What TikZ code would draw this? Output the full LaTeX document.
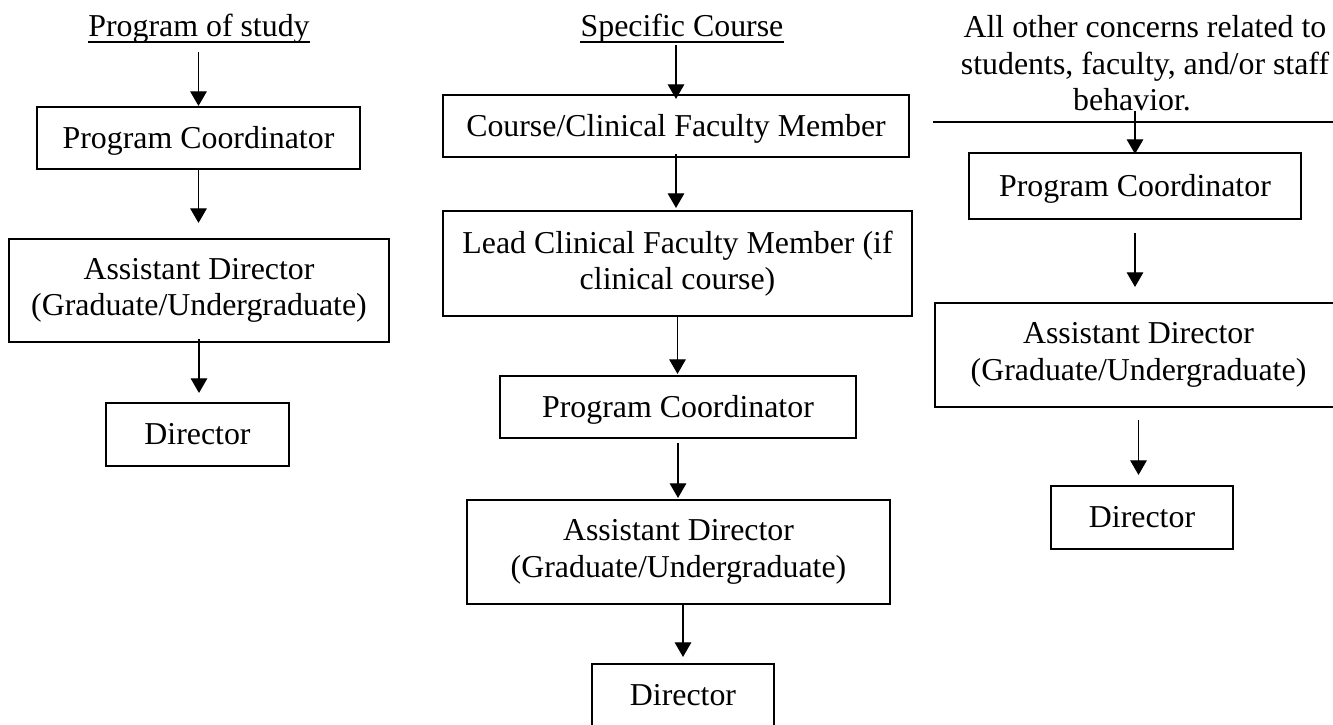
\documentclass[tikz,border=0pt]{standalone}
\usepackage{fontspec}
\setmainfont{Liberation Serif}
\usetikzlibrary{arrows.meta}
\tikzset{
  boxnode/.style={draw, line width=1.6pt, rectangle, inner sep=0pt, align=center,
    font=\fontsize{23.9pt}{27.4pt}\selectfont},
  oneline/.style={text height=16.7pt, text depth=1pt},
  titlenode/.style={inner sep=0pt, align=center, font=\fontsize{23.9pt}{27.4pt}\selectfont},
  arr/.style={line width=0.8pt, -{Triangle[width=12.5pt,length=11pt]}},
  uline/.style={line width=1.1pt},
  rule/.style={line width=1.1pt}
}
\begin{document}
\begin{tikzpicture}[x=0.75pt, y=-0.75pt]
\useasboundingbox (0,0) rectangle (1333,724);
\fill[white] (0,0) rectangle (1333,724);
\clip (0,0) rectangle (1333,724);

% ---------- Column 1: Program of study ----------
\node[titlenode, anchor=base] (t1) at (199,37) {Program of study};
\draw[uline] ([yshift=-3.75pt]t1.base west) -- ([yshift=-3.75pt]t1.base east);
\node[boxnode, oneline, minimum width=242.25pt, minimum height=46.5pt] (pc1) at (198.5,138) {Program Coordinator};
\node[boxnode, minimum width=285pt, minimum height=77.25pt] (as1) at (199,290.5) {Assistant Director\\(Graduate/Undergraduate)};
\node[boxnode, oneline, minimum width=137.25pt, minimum height=47.25pt] (d1) at (197.5,434.5) {Director};

\draw[arr, shorten <=11.25pt] (pc1.north |- t1.base) -- (pc1.north);
\draw[arr, shorten >=11.25pt] (pc1.south) -- (pc1.south |- as1.north);
\draw[arr, shorten <=-3pt, shorten >=6.75pt] (as1.south) -- (as1.south |- d1.north);

% ---------- Column 2: Specific Course ----------
\node[titlenode, anchor=base] (t2) at (682,37) {Specific Course};
\draw[uline] ([yshift=-3.75pt]t2.base west) -- ([yshift=-3.75pt]t2.base east);
\node[boxnode, oneline, minimum width=349.5pt, minimum height=46.5pt] (cf2) at (676,126) {Course/Clinical Faculty Member};
\node[boxnode, minimum width=351.75pt, minimum height=78.75pt] (lc2) at (677.5,263.5) {Lead Clinical Faculty Member (if\\clinical course)};
\node[boxnode, oneline, minimum width=267pt, minimum height=46.5pt] (pc2) at (678,407) {Program Coordinator};
\node[boxnode, minimum width=317.25pt, minimum height=78pt] (as2) at (678.5,552) {Assistant Director\\(Graduate/Undergraduate)};
\node[boxnode, oneline, minimum width=136.5pt, minimum height=47.25pt] (d2) at (683,695.5) {Director};

\draw[arr, shorten <=6pt, shorten >=-3.75pt] (cf2.north |- t2.base) -- (cf2.north);
\draw[arr, shorten <=-3pt, shorten >=1.5pt] (cf2.south) -- (cf2.south |- lc2.north);
\draw[arr, shorten >=0.75pt] (lc2.south) -- (lc2.south |- pc2.north);
\draw[arr, shorten <=3pt, shorten >=0.75pt] (pc2.south) -- (pc2.south |- as2.north);
\draw[arr, shorten <=-1.5pt, shorten >=4.5pt] (as2.south -| d2.north) -- (d2.north);

% ---------- Column 3: All other concerns ----------
\node[titlenode, anchor=north] (t3) at (1145,15.2) {All other concerns related to\\students, faculty, and/or staff\hspace*{6pt}\\behavior.\hspace*{19.5pt}};
\coordinate (r3a) at (933,122);
\coordinate (r3b) at (1340,122);
\draw[rule] (r3a) -- (r3b);
\node[boxnode, oneline, minimum width=249pt, minimum height=49.5pt] (pc3) at (1135,186) {Program Coordinator};
\node[boxnode, minimum width=305.25pt, minimum height=78pt] (as3) at (1138.5,355) {Assistant Director\\(Graduate/Undergraduate)};
\node[boxnode, oneline, minimum width=136.5pt, minimum height=47.25pt] (d3) at (1142,517.5) {Director};

\draw[arr, shorten >=-1.5pt] (pc3.north |- t3.south) -- (pc3.north);
\draw[arr, shorten <=9.75pt, shorten >=11.25pt] (pc3.south) -- (pc3.south |- as3.north);
\draw[arr, shorten <=9pt, shorten >=7.5pt] (as3.south) -- (as3.south |- d3.north);
\end{tikzpicture}
\end{document}
